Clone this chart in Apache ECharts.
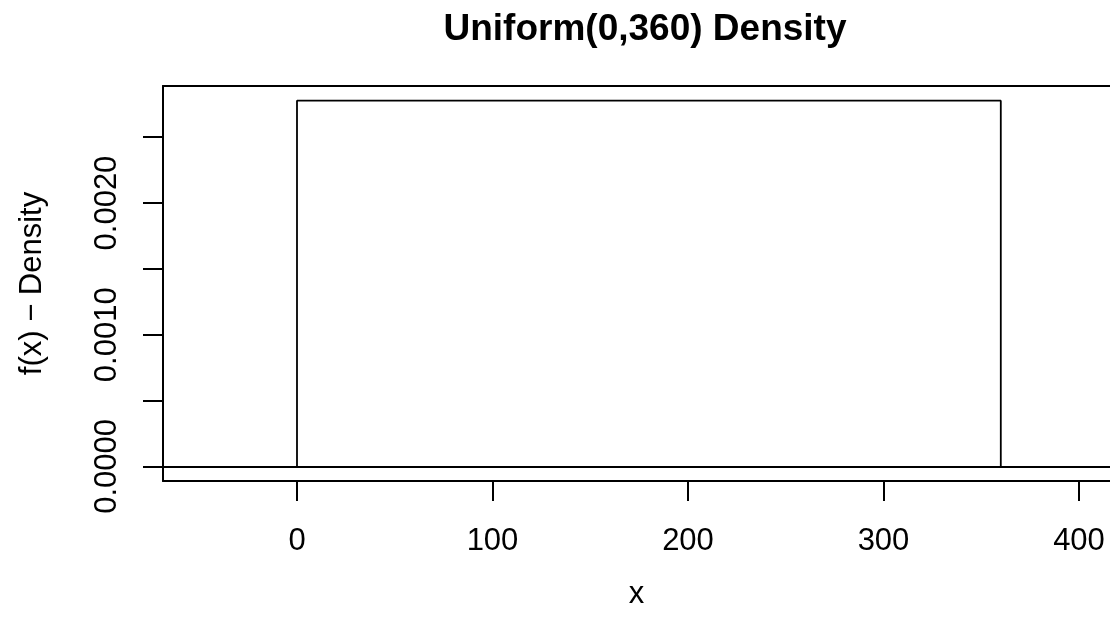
<!DOCTYPE html>
<html>
<head>
<meta charset="utf-8">
<script src="https://cdn.jsdelivr.net/npm/echarts@6/dist/echarts.min.js"></script>
<style>
html,body{margin:0;padding:0;background:#fff;}
#chart{width:1110px;height:629px;}
</style>
</head>
<body>
<div id="chart"></div>
<script>
// Data
var titleText = 'Uniform(0,360) Density';
var xName = 'x';
var yName = 'f(x) \u2212 Density';
var densX = [0, 0, 360, 360];
var densY = [0, 0.0027778, 0.0027778, 0];
var xTicks = [0, 100, 200, 300, 400];
var yTicks = [0, 0.0005, 0.0010, 0.0015, 0.0020, 0.0025];
var yTickLabels = [0, 0.0010, 0.0020];
var xRange = [-68.54, 415.86];
var yRange = [-0.000111, 0.002889];
var hLineY = 0;

var FONT = '"Liberation Sans", Arial, Helvetica, sans-serif';
var chart = echarts.init(document.getElementById('chart'), null, {renderer: 'canvas'});

var seriesData = densX.map(function (x, i) { return [x, densY[i]]; });

chart.setOption({
  animation: false,
  backgroundColor: '#ffffff',
  title: {
    text: titleText,
    left: 640,
    top: 6,
    textAlign: 'center',
    textStyle: {fontFamily: FONT, fontSize: 37, fontWeight: 'bold', color: '#000'}
  },
  grid: {left: 163, right: 0, top: 86, bottom: 148, show: false},
  xAxis: [{
    type: 'value',
    min: xRange[0], max: xRange[1],
    position: 'bottom',
    name: xName,
    nameLocation: 'middle',
    nameGap: 98,
    nameTextStyle: {fontFamily: FONT, fontSize: 31, color: '#000'},
    splitLine: {show: false},
    axisLine: {show: true, onZero: false, lineStyle: {color: '#000', width: 2}},
    axisTick: {show: true, inside: false, length: 20, customValues: xTicks, lineStyle: {color: '#000', width: 2}},
    axisLabel: {show: true, margin: 45, customValues: xTicks, fontFamily: FONT, fontSize: 31, color: '#000'}
  }, {
    type: 'value',
    min: xRange[0], max: xRange[1],
    position: 'top',
    splitLine: {show: false},
    axisLine: {show: true, onZero: false, lineStyle: {color: '#000', width: 2}},
    axisTick: {show: false},
    axisLabel: {show: false}
  }],
  yAxis: {
    type: 'value',
    min: yRange[0], max: yRange[1],
    position: 'left',
    name: yName,
    nameLocation: 'middle',
    nameGap: 115,
    nameRotate: 90,
    nameTextStyle: {fontFamily: FONT, fontSize: 31, color: '#000'},
    splitLine: {show: false},
    axisLine: {show: true, onZero: false, lineStyle: {color: '#000', width: 2}},
    axisTick: {show: true, inside: false, length: 20, customValues: yTicks, lineStyle: {color: '#000', width: 2}},
    axisLabel: {
      show: true, rotate: 90, margin: 40, customValues: yTickLabels,
      fontFamily: FONT, fontSize: 31, color: '#000',
      formatter: function (v) { return Number(v).toFixed(4); }
    }
  },
  series: [{
    type: 'line',
    xAxisIndex: 0,
    data: seriesData,
    symbol: 'none',
    lineStyle: {color: '#000', width: 1.8},
    silent: true,
    markLine: {
      silent: true,
      symbol: ['none', 'none'],
      label: {show: false},
      lineStyle: {color: '#000', width: 2, type: 'solid'},
      data: [{yAxis: hLineY}]
    }
  }]
});
</script>
</body>
</html>
